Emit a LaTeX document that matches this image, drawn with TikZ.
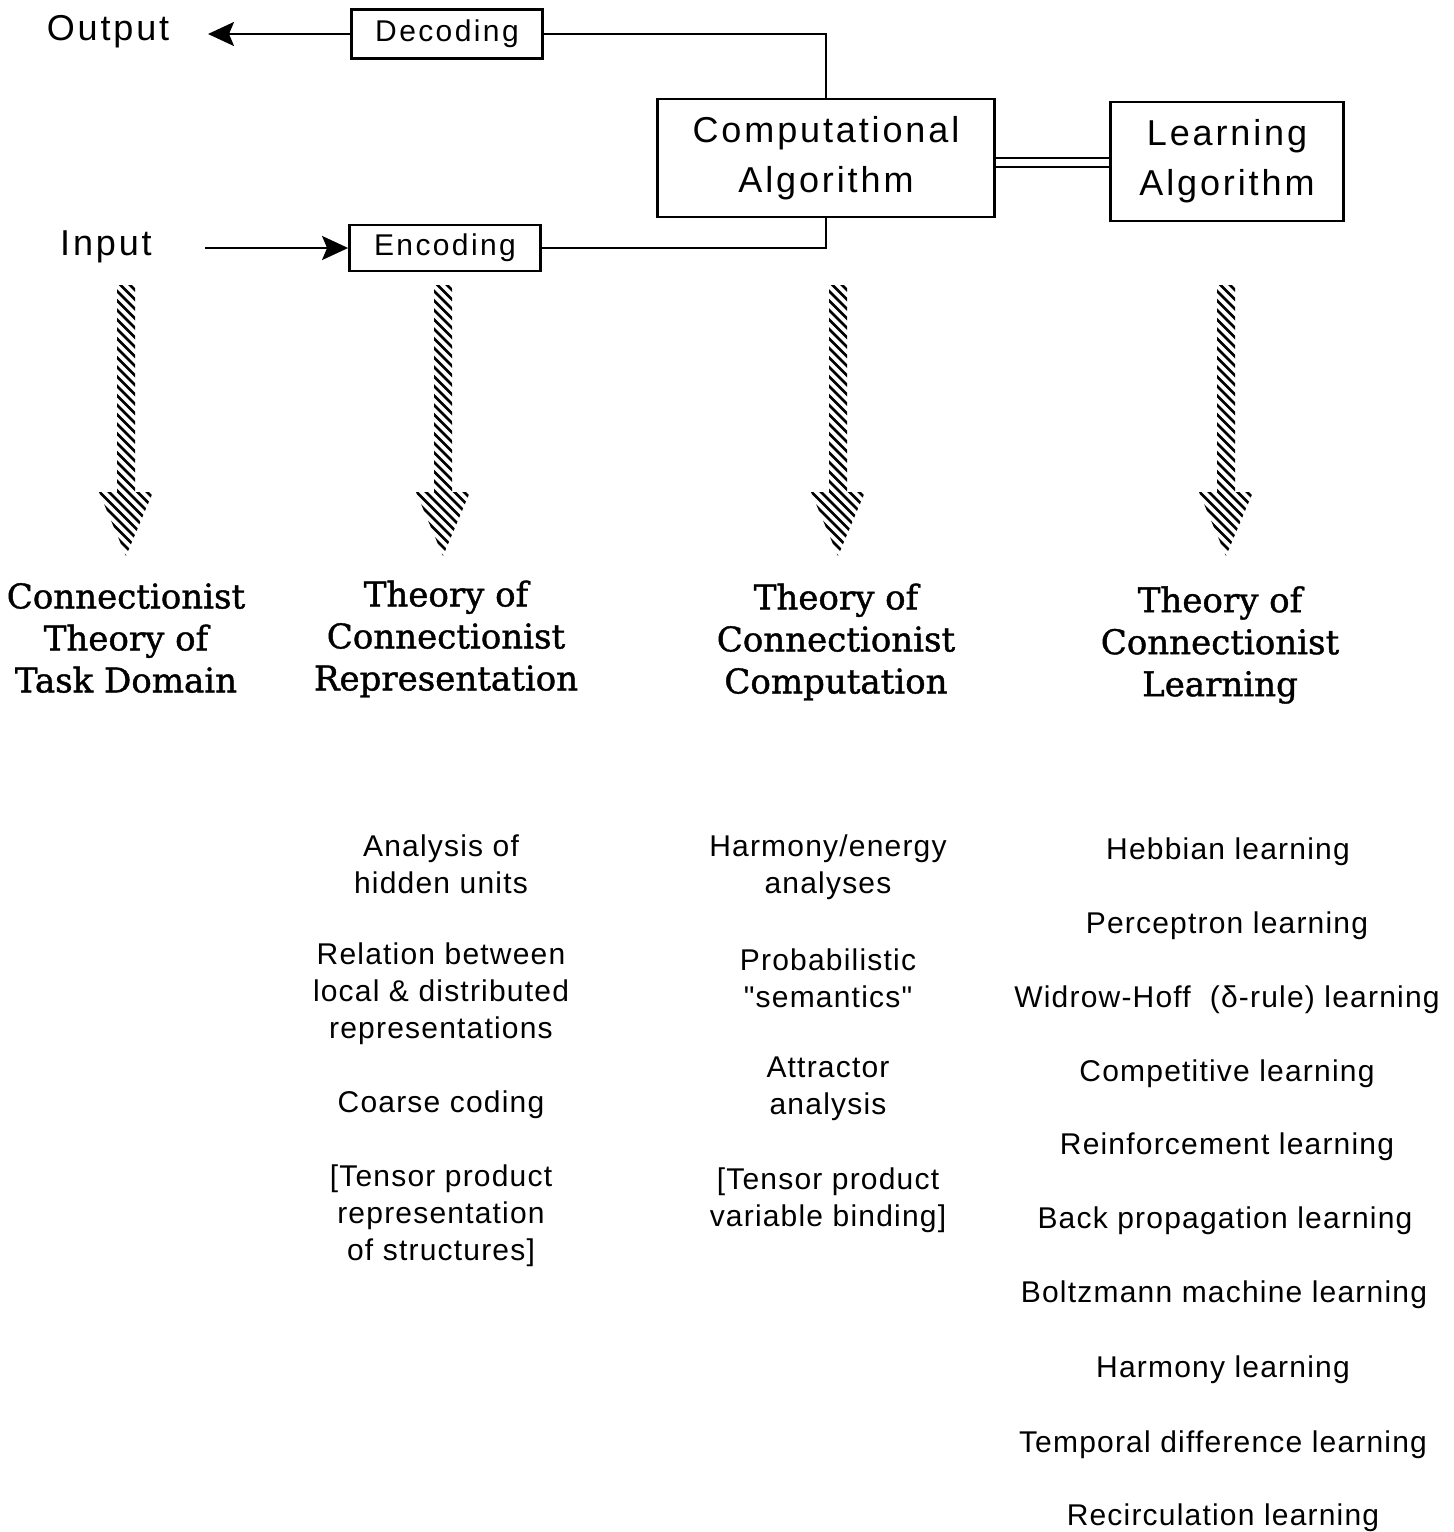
\documentclass[tikz,border=0pt]{standalone}
\usepackage{fontspec}
\usetikzlibrary{arrows.meta}
\newfontfamily\topfont{Liberation Sans}[LetterSpace=8]
\newfontfamily\listfont{Liberation Sans}[LetterSpace=4]
\newfontfamily\headfont{DejaVu Serif}[FakeBold=1.2]
\newcommand\hatchdown[2]{%
  \begin{scope}
    \clip (#1-9,285) -- (#1+9,285) -- (#1+9,492) -- (#1+27,492) -- (#1,556) -- (#1-27,492) -- (#1-9,492) -- cycle;
    \foreach \k in {0,...,34} \draw[line width=1.3pt] (#1-40,222+\k*9.5) -- ++(80,80);
  \end{scope}
  \coordinate (#2) at (#1,556);
}
\begin{document}
\begin{tikzpicture}[x=0.5pt,y=-0.5pt,
  bigtxt/.style={font={\topfont\fontsize{18}{25}\selectfont}, inner sep=0pt, align=center},
  boxbig/.style={draw, line width=1.4pt, inner sep=0pt, align=center, font={\topfont\fontsize{18}{25}\selectfont}},
  boxsmall/.style={draw, line width=1.4pt, inner sep=0pt, font={\topfont\fontsize{15}{18}\selectfont}},
  head/.style={font={\headfont\fontsize{17}{21}\selectfont}, inner sep=0pt, align=center},
  lst/.style={font={\listfont\fontsize{15}{18.5}\selectfont}, inner sep=0pt, align=center},
  conn/.style={line width=1.1pt},
  tip/.style={-{Stealth[length=13pt,width=12pt,inset=2.5pt]}}]
\useasboundingbox (0,0) rectangle (1454,1532);

% top boxes
\node[boxsmall, minimum width=95.5pt, minimum height=24.5pt] (dec) at (447,34) {Decoding};
\node[boxsmall, minimum width=95.5pt, minimum height=23pt] (enc) at (445,248) {Encoding};
\node[boxbig, minimum width=168.5pt, minimum height=59pt] (comp) at (826,158) {Computational\\Algorithm};
\node[boxbig, minimum width=116.5pt, minimum height=59.5pt] (learn) at (1227,161.5) {Learning\\Algorithm};
\node[bigtxt] (out) at (108,32) {Output};
\node[bigtxt] (in) at (106,247) {Input};
\coordinate (outend) at (208,34);
\coordinate (instart) at (205,248);

\draw[conn] (dec.east) -| (comp.north);
\draw[conn] (enc.east) -| (comp.south);
\draw[conn, tip] (dec.west) -- (outend);
\draw[conn, tip] (instart) -- (enc.west);
\draw[line width=1.2pt] ([yshift=0pt]comp.east) -- ([yshift=0pt]comp.east -| learn.west);
\draw[line width=1.2pt] ([yshift=-4.5pt]comp.east) -- ([yshift=-4.5pt]comp.east -| learn.west);

% hatched arrows
\hatchdown{126}{a1}
\hatchdown{443}{a2}
\hatchdown{838}{a3}
\hatchdown{1226}{a4}

% headings
\node[head] (h1) at (126,638) {Connectionist\\Theory of\\Task Domain};
\node[head] (h2) at (446,639) {Theory of\\Connectionist\\Representation};
\node[head] (h3) at (836,642) {Theory of\\Connectionist\\Computation};
\node[head] (h4) at (1220,645) {Theory of\\Connectionist\\Learning};

% column 2 list
\node[lst] (r1) at (441,864) {Analysis of\\hidden units};
\node[lst] (r2) at (441,994) {Relation between\\local \& distributed\\representations};
\node[lst] (r3) at (441,1105) {Coarse coding};
\node[lst] (r4) at (441,1216) {[Tensor product\\representation\\of structures]};

% column 3 list
\node[lst] (c1) at (828,867) {Harmony/energy\\analyses};
\node[lst] (c2) at (828,978) {Probabilistic\\"semantics"};
\node[lst] (c3) at (828,1089) {Attractor\\analysis};
\node[lst] (c4) at (828,1200) {[Tensor product\\variable binding]};

% column 4 list
\node[lst] (l1) at (1228,852) {Hebbian learning};
\node[lst] (l2) at (1227,926) {Perceptron learning};
\node[lst] (l3) at (1227,1000) {Widrow-Hoff\ \ (δ-rule) learning};
\node[lst] (l4) at (1227,1074) {Competitive learning};
\node[lst] (l5) at (1227,1147) {Reinforcement learning};
\node[lst] (l6) at (1225,1221) {Back propagation learning};
\node[lst] (l7) at (1224,1295) {Boltzmann machine learning};
\node[lst] (l8) at (1223,1370) {Harmony learning};
\node[lst] (l9) at (1223,1445) {Temporal difference learning};
\node[lst] (l10) at (1223,1518) {Recirculation learning};
\end{tikzpicture}
\end{document}
